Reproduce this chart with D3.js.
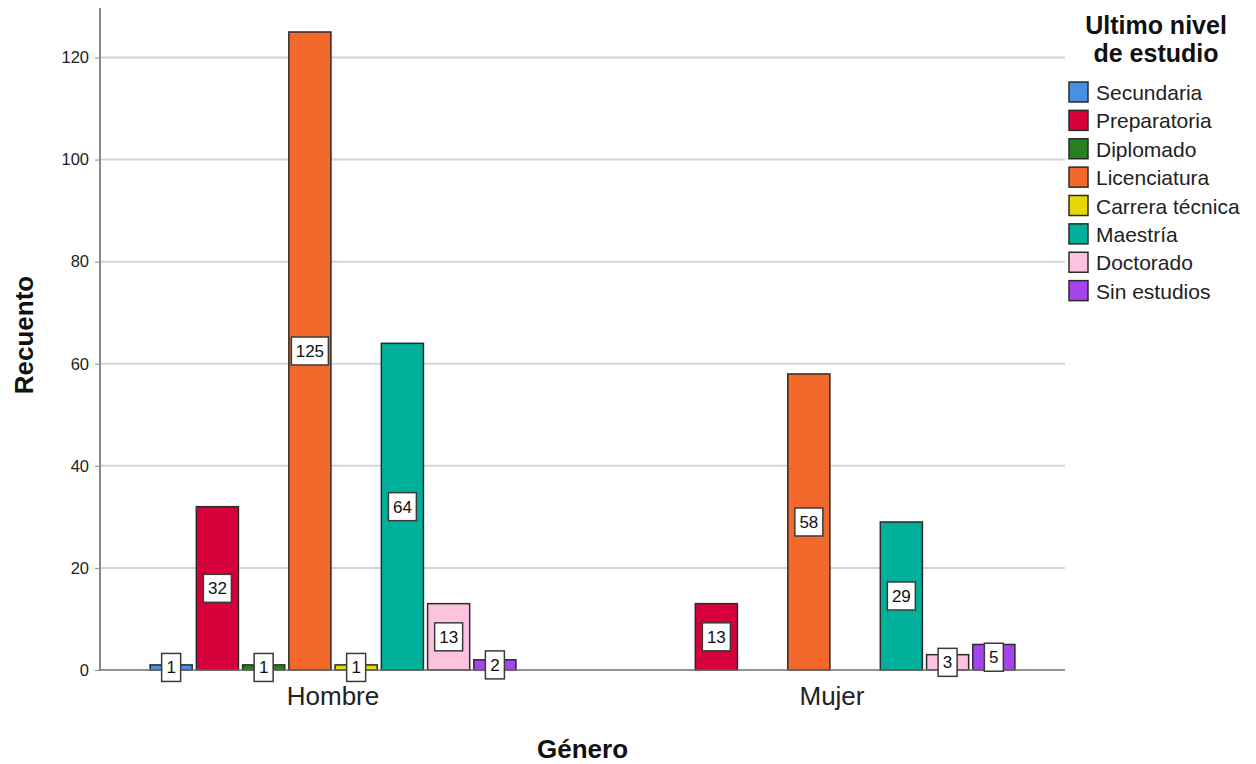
<!DOCTYPE html>
<html>
<head>
<meta charset="utf-8">
<script src="https://cdn.jsdelivr.net/npm/d3@7"></script>
<style>
  body { margin: 0; background: #fff; }
  svg text { font-family: Arial, "Liberation Sans", sans-serif; }
</style>
</head>
<body>
<svg id="chart" width="1256" height="764"></svg>
<script>
// Count of respondents by gender and last education level
const genders = ["Hombre", "Mujer"];
const levels = ["Secundaria", "Preparatoria", "Diplomado", "Licenciatura",
                "Carrera técnica", "Maestría", "Doctorado", "Sin estudios"];
const colors = ["#4a90e2", "#d8003a", "#268021", "#f2692b",
                "#e6d70a", "#00b09a", "#fdc3de", "#a543ec"];
const hombreValues = [1, 32, 1, 125, 1, 64, 13, 2];
const mujerValues = [null, 13, null, 58, null, 29, 3, 5];
const yTicks = [0, 20, 40, 60, 80, 100, 120];
const legendTitle = ["Ultimo nivel", "de estudio"];

const seriesByGender = { Hombre: hombreValues, Mujer: mujerValues };

const svg = d3.select("#chart");
const plot = { left: 100, right: 1065, top: 8, bottom: 670 };

const y = d3.scaleLinear().domain([0, 129.7]).range([plot.bottom, plot.top]);
const x0 = d3.scalePoint().domain(genders).range([plot.left, plot.right]).padding(0.467);
const groupWidth = 370;
const x1 = d3.scaleBand().domain(levels).range([-groupWidth / 2, groupWidth / 2]).paddingInner(0.09).paddingOuter(0.045);
const color = d3.scaleOrdinal().domain(levels).range(colors);

// gridlines
svg.append("g")
  .selectAll("line")
  .data(yTicks.filter(t => t > 0))
  .join("line")
  .attr("x1", plot.left).attr("x2", plot.right)
  .attr("y1", d => y(d)).attr("y2", d => y(d))
  .attr("stroke", "#d4d4d4").attr("stroke-width", 2);

// y axis
const yAxis = svg.append("g")
  .attr("transform", `translate(${plot.left},0)`)
  .call(d3.axisLeft(y).tickValues(yTicks).tickSize(5).tickPadding(6).tickSizeOuter(0));
yAxis.select(".domain").attr("stroke", "#8a8a8a").attr("stroke-width", 2)
  .attr("d", `M0,${plot.top}V${plot.bottom}`);
yAxis.selectAll(".tick line").attr("stroke", "#8a8a8a");
yAxis.selectAll(".tick text").attr("font-size", 16.5).attr("fill", "#222").attr("font-family", "Arial, 'Liberation Sans', sans-serif");

// bars
const bars = [];
genders.forEach(g => {
  seriesByGender[g].forEach((v, i) => {
    if (v !== null) bars.push({ gender: g, level: levels[i], value: v });
  });
});

const barG = svg.append("g");
barG.selectAll("rect")
  .data(bars)
  .join("rect")
  .attr("x", d => x0(d.gender) + x1(d.level))
  .attr("width", x1.bandwidth())
  .attr("y", d => y(d.value))
  .attr("height", d => y(0) - y(d.value))
  .attr("fill", d => color(d.level))
  .attr("stroke", "#2a2a2a")
  .attr("stroke-width", 1.5);

// x axis baseline
svg.append("line")
  .attr("x1", plot.left).attr("x2", plot.right)
  .attr("y1", plot.bottom).attr("y2", plot.bottom)
  .attr("stroke", "#6e6e6e").attr("stroke-width", 1.5);

// value labels
const labelG = svg.append("g");
bars.forEach(d => {
  const cx = x0(d.gender) + x1(d.level) + x1.bandwidth() / 2;
  const cy = y(d.value / 2);
  const txt = String(d.value);
  const w = 10 + txt.length * 9;
  const h = 28;
  labelG.append("rect")
    .attr("x", cx - w / 2).attr("y", cy - h / 2)
    .attr("width", w).attr("height", h)
    .attr("fill", "#fff").attr("stroke", "#3a3a3a").attr("stroke-width", 1.5);
  labelG.append("text")
    .attr("x", cx).attr("y", cy + 6)
    .attr("text-anchor", "middle")
    .attr("font-size", 17).attr("fill", "#111")
    .text(txt);
});

// category labels
svg.append("g")
  .selectAll("text")
  .data(genders)
  .join("text")
  .attr("x", d => x0(d)).attr("y", 705)
  .attr("text-anchor", "middle")
  .attr("font-size", 26).attr("fill", "#222")
  .text(d => d);

// axis titles
svg.append("text")
  .attr("x", (plot.left + plot.right) / 2).attr("y", 758)
  .attr("text-anchor", "middle").attr("font-size", 26).attr("font-weight", "bold").attr("fill", "#111")
  .text("Género");
svg.append("text")
  .attr("transform", `translate(33,${(plot.top + plot.bottom) / 2 - 4}) rotate(-90)`)
  .attr("text-anchor", "middle").attr("font-size", 26).attr("font-weight", "bold").attr("fill", "#111")
  .text("Recuento");

// legend
const legend = svg.append("g");
legend.selectAll("text.title")
  .data(legendTitle)
  .join("text")
  .attr("class", "title")
  .attr("x", 1156)
  .attr("y", (d, i) => 34 + i * 28)
  .attr("text-anchor", "middle")
  .attr("font-size", 25).attr("font-weight", "bold").attr("fill", "#111")
  .text(d => d);

const legendRow = d3.scaleBand().domain(levels).range([79, 306]);
const items = legend.selectAll("g.item")
  .data(levels)
  .join("g")
  .attr("class", "item")
  .attr("transform", d => `translate(1069,${legendRow(d)})`);
items.append("rect")
  .attr("x", 0).attr("y", 3).attr("width", 19).attr("height", 20)
  .attr("fill", d => color(d)).attr("stroke", "#2a2a2a").attr("stroke-width", 1.5);
items.append("text")
  .attr("x", 27).attr("y", 21)
  .attr("font-size", 21).attr("fill", "#222")
  .text(d => d);
</script>
</body>
</html>
